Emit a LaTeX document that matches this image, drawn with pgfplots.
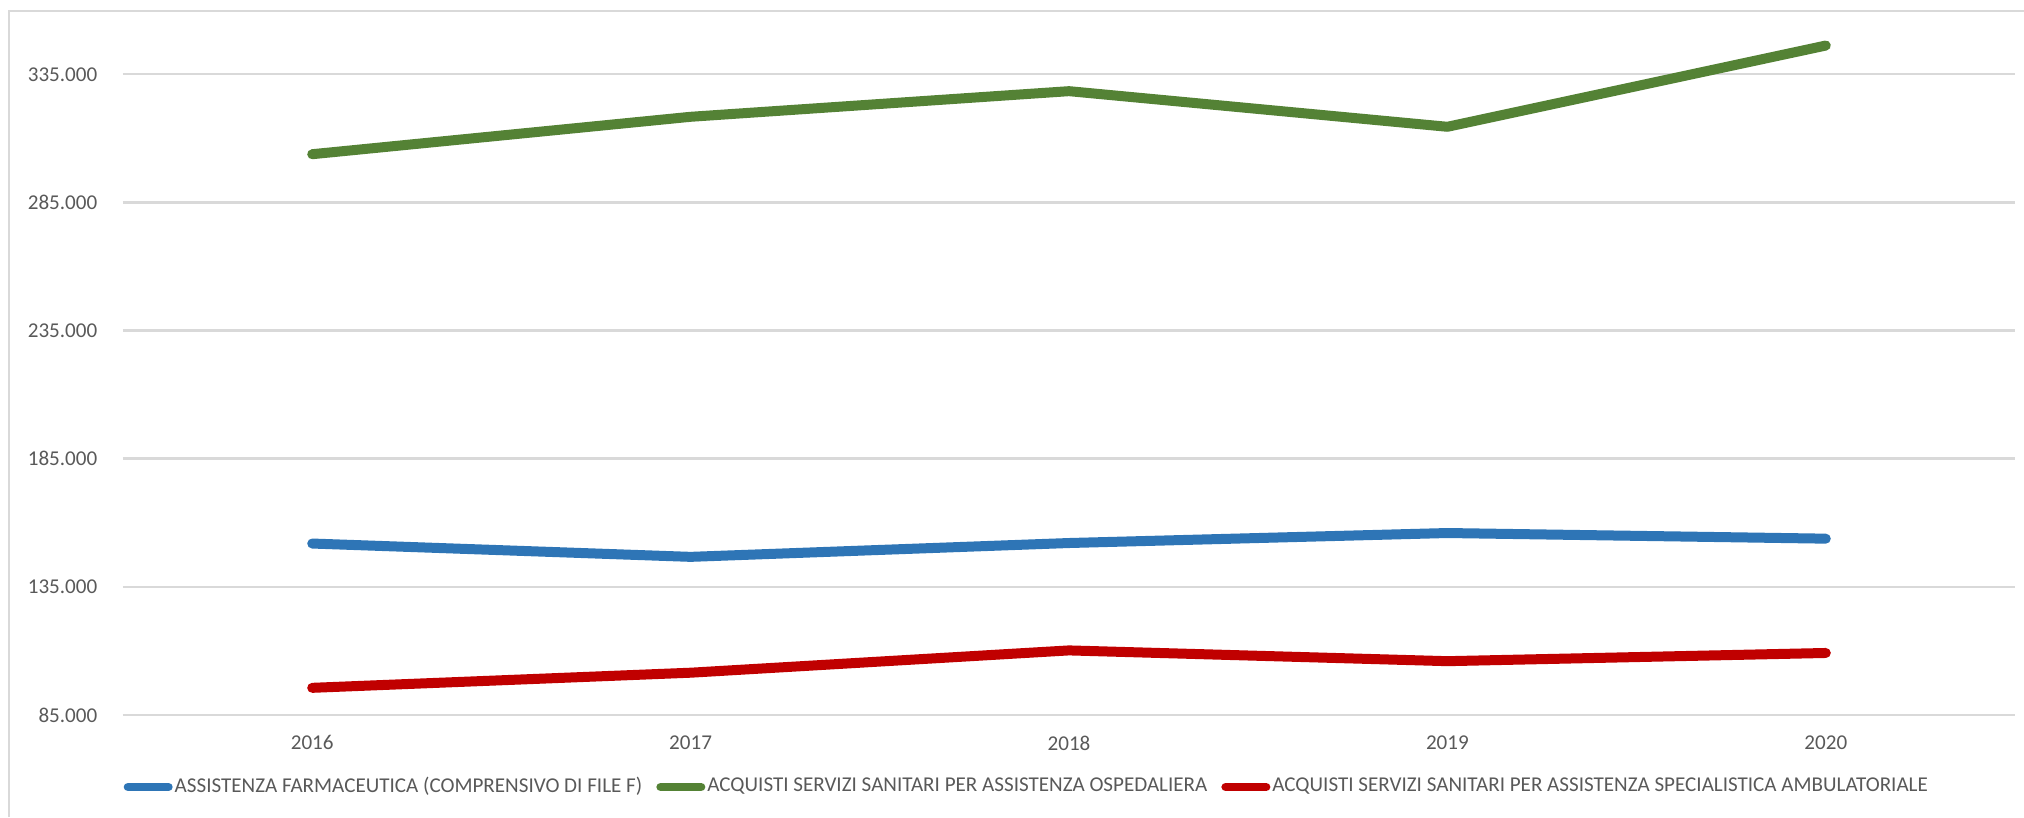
\documentclass[border=0pt]{standalone}
\usepackage{pgfplots}
\pgfplotsset{compat=1.18}
\usepackage{fontspec}
\setmainfont{Carlito}
\definecolor{farm}{HTML}{2E75B6}
\definecolor{osp}{HTML}{548235}
\definecolor{amb}{HTML}{C00000}
\definecolor{gridc}{HTML}{D9D9D9}
\definecolor{txt}{HTML}{595959}

\begin{document}
\begin{tikzpicture}
\path[use as bounding box] (0,0) rectangle (202.4mm,81.7mm);
\draw[gridc, line width=0.2mm] (0.9mm,0) -- (0.9mm,80.6mm) -- (202.4mm,80.6mm);
\begin{axis}[
    at={(12.3mm,10.2mm)}, anchor=south west,
    scale only axis, width=189.2mm, height=69.2mm,
    xmin=-0.5, xmax=4.5,
    ymin=85000, ymax=355000,
    xtick={0,...,4},
    xticklabels={2016,2017,2018,2019,2020},
    ytick={85000,135000,...,335000},
    scaled y ticks=false,
    /pgf/number format/assume math mode=true,
    yticklabel style={/pgf/number format/fixed, /pgf/number format/1000 sep={.},
        inner sep=0pt, xshift=-2.5mm},
    xticklabel style={inner sep=0pt, anchor=north, yshift=-2mm},
    tick label style={font=\fontsize{6}{7}\selectfont, text=txt},
    major tick length=0pt,
    axis line style={draw=none},
    ymajorgrids,
    grid style={gridc, line width=0.25mm},
    legend columns=3,
    legend style={at={(0,0)}, anchor=west, yshift=-7.2mm, draw=none, fill=none,
        inner sep=0pt, font=\fontsize{6}{7}\selectfont, text=txt,
        nodes={inner sep=0.2mm},
        /tikz/every even column/.append style={column sep=1.2mm}},
    legend image code/.code={\draw[line width=0.85mm, line cap=round] (0.45mm,0mm) -- (4.5mm,0mm);},
    every axis plot/.append style={line width=1mm, line cap=round, line join=round, mark=none},
]
\addplot[farm] coordinates {(0,151900) (1,146700) (2,152100) (3,156000) (4,153800)};
\addlegendentry{ASSISTENZA FARMACEUTICA (COMPRENSIVO DI FILE F)}
\addplot[osp] coordinates {(0,303800) (1,318400) (2,328400) (3,314500) (4,346200)};
\addlegendentry{ACQUISTI SERVIZI SANITARI PER ASSISTENZA OSPEDALIERA}
\addplot[amb] coordinates {(0,95600) (1,101500) (2,110200) (3,106000) (4,109200)};
\addlegendentry{ACQUISTI SERVIZI SANITARI PER ASSISTENZA SPECIALISTICA AMBULATORIALE}
\end{axis}
\end{tikzpicture}
\end{document}
